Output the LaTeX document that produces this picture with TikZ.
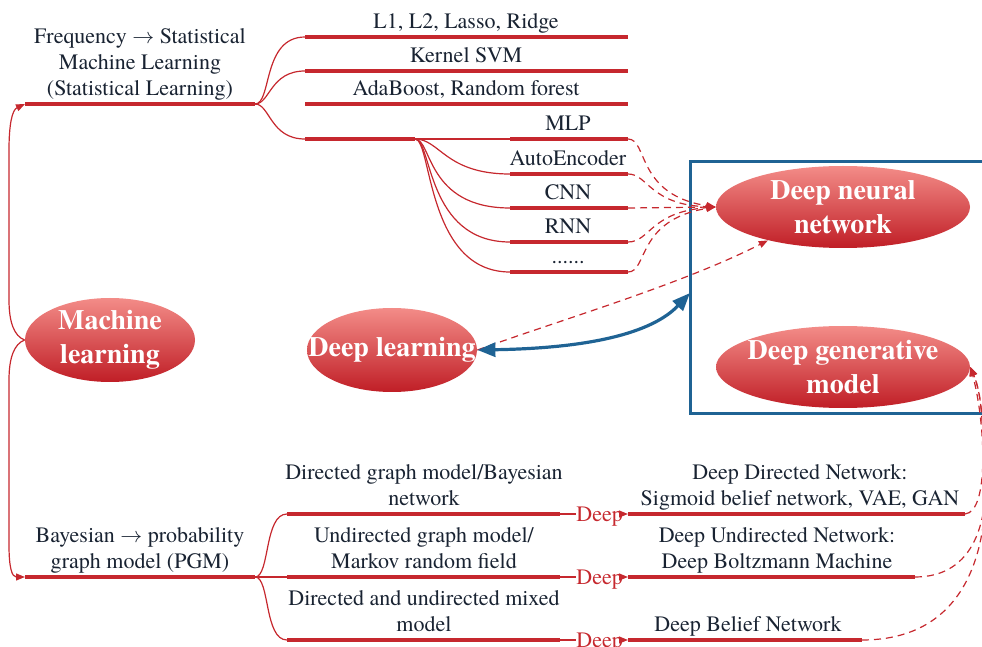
\documentclass[tikz,border=0pt]{standalone}
\usepackage{fontspec}
\setmainfont{texgyretermes}[Extension=.otf,UprightFont=*-regular,BoldFont=*-bold,ItalicFont=*-italic,BoldItalicFont=*-bolditalic]
\usetikzlibrary{shapes.geometric,arrows.meta}
\definecolor{lred}{RGB}{198,40,46}
\definecolor{ink}{RGB}{25,35,50}
\definecolor{bblue}{RGB}{31,99,148}
\definecolor{etop}{RGB}{243,140,136}
\definecolor{ebot}{RGB}{192,30,38}
\begin{document}
\begin{tikzpicture}[x=0.5pt,y=-0.5pt,
  thickln/.style={draw=lred,line width=2pt},
  thinln/.style={draw=lred,line width=0.6pt},
  dashln/.style={draw=lred,line width=0.6pt,dash pattern=on 3.5pt off 2.5pt},
  rtip/.style={-{Triangle[length=4.5pt,width=3.5pt]}},
  lbl/.style={inner sep=0pt,align=center,text=ink,font=\fontsize{11}{13}\selectfont,anchor=south},
  deeplbl/.style={inner sep=0pt,text=lred,font=\fontsize{11}{13}\selectfont},
  bubble/.style={ellipse,inner sep=0pt,top color=etop,bottom color=ebot,draw=none},
  bubtext/.style={inner sep=0pt,text=white,align=center,font=\fontsize{14}{17}\selectfont\bfseries},
]
\useasboundingbox (0,0) rectangle (982,647);

% blue box
\draw[bblue,line width=1.5pt] (690,162) rectangle (1000,414);

% ellipses
\node[bubble,minimum width=85pt,minimum height=42pt] (ML) at (110,340) {};
\node[bubtext] (MLt) at (ML) {Machine\\learning};
\node[bubble,minimum width=85pt,minimum height=42pt] (DL) at (392,350) {};
\node[bubtext] (DLt) at (DL) {Deep learning};
\node[bubble,minimum width=127pt,minimum height=41pt] (DNN) at (843,207) {};
\node[bubtext] (DNNt) at (DNN) {Deep neural\\network};
\node[bubble,minimum width=127pt,minimum height=41pt] (DGM) at (843,367) {};
\node[bubtext] (DGMt) at (DGM) {Deep generative\\model};

% coordinates: top
\coordinate (ta) at (25,104); \coordinate (tb) at (255,104);
\foreach \n/\y in {1/37,2/71,3/104,4/139}{
  \coordinate (s\n) at (305,\y); \coordinate (e\n) at (628,\y);}
\coordinate (e4) at (415,139);
\foreach \n/\y in {m/139,a/174,c/208,r/242,d/272}{
  \coordinate (n\n s) at (510,\y); \coordinate (n\n e) at (628,\y);}

% bottom coordinates
\coordinate (ba) at (25,577); \coordinate (bb) at (255,577);
\foreach \n/\y in {1/514,2/577,3/640}{
  \coordinate (p\n s) at (287,\y); \coordinate (p\n e) at (560,\y);
  \coordinate (q\n s) at (628,\y);}
\coordinate (q1e) at (965,514); \coordinate (q2e) at (915,577); \coordinate (q3e) at (862,640);

% ML connectors
\draw[thinln,rtip] (ML.west) .. controls (14,336) and (9,322) .. (9,300) -- (9,150)
  .. controls (9,125) and (12,110) .. (ta);
\draw[thinln,rtip] (ML.west) .. controls (14,344) and (9,358) .. (9,380) -- (9,545)
  .. controls (9,568) and (12,577) .. (ba);

% top main line
\draw[thickln] (ta) -- (tb);
\node[lbl] (freq) at (140,104) {Frequency $\rightarrow$ Statistical\\Machine Learning\\(Statistical Learning)\strut};

% top branches
\draw[thinln] (tb) .. controls (272,104) and (262,37) .. (s1);
\draw[thinln] (tb) .. controls (270,104) and (270,71) .. (s2);
\draw[thinln] (tb) .. controls (270,104) and (270,139) .. (s4);
\draw[thickln] (s1) -- (e1);
\draw[thickln] (s2) -- (e2);
\draw[thickln] (s3) -- (e3);
\draw[thickln] (s4) -- (e4);
\node[lbl] (t1) at (466,37) {L1, L2, Lasso, Ridge\strut};
\node[lbl] (t2) at (466,71) {Kernel SVM\strut};
\node[lbl] (t3) at (466,104) {AdaBoost, Random forest\strut};

% NN sub-branches
\draw[thinln] (e4) -- (nms);
\draw[thinln] (e4) .. controls (440,139) and (445,174) .. (nas);
\draw[thinln] (e4) .. controls (432,139) and (426,208) .. (ncs);
\draw[thinln] (e4) .. controls (432,139) and (426,242) .. (nrs);
\draw[thinln] (e4) .. controls (432,139) and (426,272) .. (nds);
\foreach \n in {m,a,c,r,d}{\draw[thickln] (n\n s) -- (n\n e);}
\node[lbl] (tm) at (568,139) {MLP\strut};
\node[lbl] (tae) at (568,174) {AutoEncoder\strut};
\node[lbl] (tc) at (568,208) {CNN\strut};
\node[lbl] (tr) at (568,242) {RNN\strut};
\node[lbl] (td) at (568,272) {......\strut};

% dashed to DNN
\draw[dashln,rtip] (nme) .. controls (648,139) and (636,195) .. (DNN.west);
\draw[dashln,rtip] (nae) .. controls (648,174) and (650,205) .. (DNN.west);
\draw[dashln,rtip] (nce) -- (DNN.west);
\draw[dashln,rtip] (nre) .. controls (650,242) and (650,212) .. (DNN.west);
\draw[dashln,rtip] (nde) .. controls (648,272) and (636,220) .. (DNN.west);

% deep learning links
\draw[dashln,rtip] (DL.east) .. controls (560,320) and (680,285) .. (DNN.204);
\coordinate (boxw) at (690,293);
\draw[bblue,line width=1.6pt,{Triangle[length=9pt,width=7pt]}-{Triangle[length=9pt,width=7pt]}]
  (DL.east) .. controls (600,348) and (655,330) .. (boxw);

% bottom main line
\draw[thickln] (ba) -- (bb);
\node[lbl] (bayes) at (140,577) {Bayesian $\rightarrow$ probability\\graph model (PGM)\strut};

\draw[thinln] (bb) .. controls (270,577) and (264,514) .. (p1s);
\draw[thinln] (bb) -- (p2s);
\draw[thinln] (bb) .. controls (270,577) and (264,640) .. (p3s);
\foreach \n in {1,2,3}{\draw[thickln] (p\n s) -- (p\n e);}
\node[lbl] (b1) at (424,514) {Directed graph model/Bayesian\\network\strut};
\node[lbl] (b2) at (424,577) {Undirected graph model/\\Markov random field\strut};
\node[lbl] (b3) at (424,640) {Directed and undirected mixed\\model\strut};

% Deep labels
\foreach \n/\y in {1/514,2/577,3/640}{
  \node[deeplbl,anchor=west] (dp\n) at (576,\y+3) {Deep};
  \draw[thinln] (p\n e) -- (dp\n.west |- p\n e);
  \draw[thinln,rtip] (dp\n.east |- p\n e) -- (q\n s);
  \draw[thickln] (q\n s) -- (q\n e);
}
\node[lbl] (r1) at (800,514) {Deep Directed Network:\\Sigmoid belief network, VAE, GAN\strut};
\node[lbl] (r2) at (777,577) {Deep Undirected Network:\\Deep Boltzmann Machine\strut};
\node[lbl] (r3) at (748,640) {Deep Belief Network\strut};

% dashed to DGM
\draw[dashln,rtip] (q1e) .. controls (990,512) and (985,420) .. (DGM.east);
\draw[dashln,rtip] (q2e) .. controls (975,577) and (990,520) .. (985,460) .. controls (982,420) and (982,395) .. (DGM.east);
\draw[dashln,rtip] (q3e) .. controls (960,640) and (990,560) .. (985,470) .. controls (982,420) and (982,395) .. (DGM.east);
\end{tikzpicture}
\end{document}
